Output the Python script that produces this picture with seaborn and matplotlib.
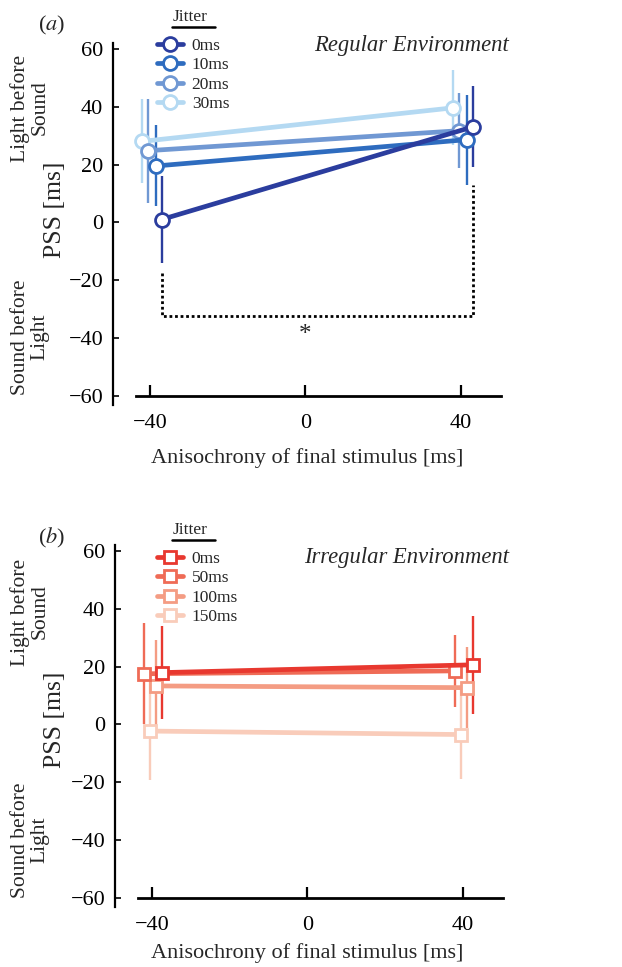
import numpy as np
import pandas as pd
import matplotlib
matplotlib.use("Agg")
import matplotlib.pyplot as plt
from matplotlib.lines import Line2D
import seaborn as sns

# anisochrony of the final stimulus (ms)
anisochrony = [-40, 40]

# panel (a): regular environment
reg_jitter = ["0ms", "10ms", "20ms", "30ms"]
reg_pss = [[1, 33], [19.5, 28.6], [24.8, 31.7], [28, 39.6]]
reg_err = [[15, 14], [14, 15.5], [18, 13], [14.5, 13]]
reg_offset = [3, 1.5, -0.4, -2]
reg_colors = ["#2b3d9e", "#2e6cbf", "#7098d3", "#b4d9f2"]

# panel (b): irregular environment
irr_jitter = ["0ms", "50ms", "100ms", "150ms"]
irr_pss = [[17.9, 20.6], [17.5, 18.5], [13.3, 12.7], [-2.3, -3.5]]
irr_err = [[16, 17], [17.5, 12.5], [16, 14], [17, 15.5]]
irr_offset = [2.7, -2.1, 1.1, -0.6]
irr_colors = ["#e8382f", "#ef6b56", "#f49c83", "#f9ccba"]

# significance bracket for panel (a)
bracket_y = -32.5
bracket_left_top = -17.4
bracket_right_top = 13

sns.set_theme(style="ticks")
plt.rcParams["font.family"] = ["Liberation Serif", "DejaVu Serif"]
plt.rcParams["mathtext.fontset"] = "stix"

fig = plt.figure(figsize=(6.22, 9.67), dpi=100)
W, H = 622, 967


def px_axes(left, top, width, height):
    return fig.add_axes([left / W, 1 - (top + height) / H, width / W, height / H])


def draw_panel(ax, jitters, pss, err, offsets, colors, marker, msize):
    rows = []
    for j, vals, errs, off in zip(jitters, pss, err, offsets):
        for a, v, e in zip(anisochrony, vals, errs):
            rows.append({"jitter": j, "x": a + off, "pss": v, "err": e})
    df = pd.DataFrame(rows)
    # error bars under everything
    for j, c in zip(jitters, colors):
        d = df[df["jitter"] == j]
        ax.errorbar(d["x"], d["pss"], yerr=d["err"], fmt="none", ecolor=c,
                    elinewidth=1.7, capsize=0, zorder=1)
    # lightest first so dark series sit on top
    for j, c in reversed(list(zip(jitters, colors))):
        d = df[df["jitter"] == j]
        sns.lineplot(data=d, x="x", y="pss", ax=ax, color=c, lw=3.4,
                     marker=marker, markersize=msize, markerfacecolor="white",
                     markeredgecolor=c, markeredgewidth=2, zorder=3)
    ax.set_xlim(-49.5, 50.3)
    ax.set_ylim(-63.1, 62)
    ax.set_xticks([-40, 0, 40])
    ax.set_yticks([-60, -40, -20, 0, 20, 40, 60])
    ax.spines["top"].set_visible(False)
    ax.spines["right"].set_visible(False)
    ax.spines["bottom"].set_position(("data", -60))
    ax.spines["bottom"].set_bounds(-43.6, 50.3)
    ax.spines["bottom"].set_linewidth(2)
    ax.spines["left"].set_linewidth(1.6)
    ax.spines["bottom"].set_color("black")
    ax.spines["left"].set_color("black")
    ax.tick_params(axis="x", direction="in", length=8, width=1.6, pad=13,
                   labelsize=16, colors="black")
    ax.tick_params(axis="y", direction="in", length=4, width=1.2, pad=7,
                   labelsize=16, colors="black")
    ax.set_xlabel("")
    ax.set_ylabel("")
    ax.patch.set_alpha(0)

    handles = [Line2D([], [], color=c, lw=3.4, marker=marker, markersize=msize,
                      markerfacecolor="white", markeredgecolor=c,
                      markeredgewidth=2) for c in colors]
    return handles


def decorate(ax, handles, labels, top, title, tag):
    # legend "Jitter" title with underline
    fig.text(190 / W, 1 - (top - 18) / H, "Jitter", ha="center", va="center",
             fontsize=12.5)
    fig.add_artist(Line2D([172 / W, 215 / W], [1 - (top - 8) / H] * 2,
                          color="black", lw=1.8, transform=fig.transFigure))
    fig.legend(handles, labels, loc="upper left",
               bbox_to_anchor=(157 / W, 1 - (top + 3) / H),
               bbox_transform=fig.transFigure, frameon=False, fontsize=12.5,
               borderpad=0, borderaxespad=0, handlelength=1.5,
               handletextpad=0.5, labelspacing=0.18)
    fig.text(509 / W, 1 - (top + 10) / H, title, ha="right", va="center",
             fontsize=16.3, style="italic")
    fig.text(52 / W, 1 - (top - 10) / H, r"($\it{" + tag + "}$)", ha="center",
             va="center", fontsize=16)


# ---- panel (a)
ax1 = px_axes(113, 43, 388, 362)
h1 = draw_panel(ax1, reg_jitter, reg_pss, reg_err, reg_offset, reg_colors, "o", 10)
bx_left = anisochrony[0] + reg_offset[0]
bx_right = anisochrony[1] + reg_offset[0]
ax1.plot([bx_left, bx_left, bx_right, bx_right],
         [bracket_left_top, bracket_y, bracket_y, bracket_right_top],
         color="black", lw=2, ls=(0, (1, 1)), zorder=2)
ax1.text(0, -39, "*", ha="center", va="center", fontsize=18)
decorate(ax1, h1, reg_jitter, 35, "Regular Environment", "a")

# ---- panel (b)
ax2 = px_axes(115, 545, 388, 362)
h2 = draw_panel(ax2, irr_jitter, irr_pss, irr_err, irr_offset, irr_colors, "s", 9)
decorate(ax2, h2, irr_jitter, 548, "Irregular Environment", "b")

# axis labels
for ytop, (pss_y, lb_y, sb_y, xl_y) in [(0, (210, 108, 337, 458)),
                                        (1, (720, 612, 840, 953))]:
    fig.text(55 / W, 1 - pss_y / H, "PSS [ms]", rotation=90, ha="center",
             va="center", fontsize=18.5)
    fig.text(30 / W, 1 - lb_y / H, "Light before\nSound", rotation=90,
             ha="center", va="center", fontsize=15.5, linespacing=1.0)
    fig.text(30 / W, 1 - sb_y / H, "Sound before\nLight", rotation=90,
             ha="center", va="center", fontsize=15.5, linespacing=1.0)
    fig.text(307 / W, 1 - xl_y / H, "Anisochrony of final stimulus [ms]",
             ha="center", va="center", fontsize=16)

fig.savefig("out.png", dpi=100)
